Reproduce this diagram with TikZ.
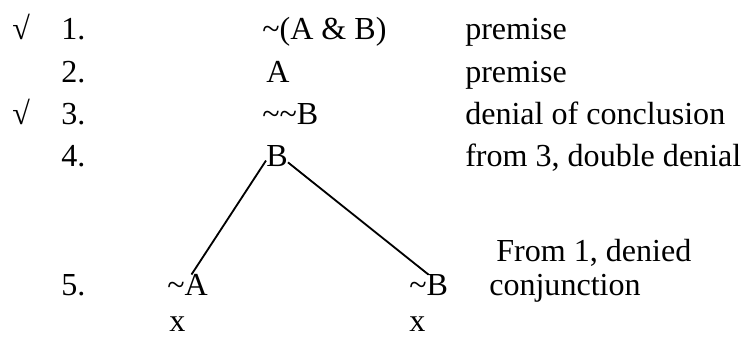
\documentclass[tikz,border=0pt]{standalone}
\usepackage{fontspec}
\setmainfont{Liberation Serif}
\usepackage{tikz}
\newcommand{\dng}{\textasciitilde}

\begin{document}
\begin{tikzpicture}[x=0.025cm,y=-0.025cm,
  row/.style={anchor=base west,inner sep=0pt,font=\fontsize{22.8}{27}\selectfont}]
  \useasboundingbox (0,0) rectangle (744,339);
  \node[row] (chk1) at (12,40) {√};
  \node[row] (num1) at (61,40) {1.};
  \node[row] (frm1) at (262,40) {\dng(A \& B)};
  \node[row] (why1) at (465,40) {premise};

  \node[row] (num2) at (61,82.5) {2.};
  \node[row] (frm2) at (266,82.5) {A};
  \node[row] (why2) at (465,82.5) {premise};

  \node[row] (chk3) at (12,125) {√};
  \node[row] (num3) at (61,125) {3.};
  \node[row] (frm3) at (262,125) {\dng\dng B};
  \node[row] (why3) at (465,125) {denial of conclusion};

  \node[row] (num4) at (61,167) {4.};
  \node[row] (frm4) at (266,167) {B};
  \node[row] (why4) at (465,167) {from 3, double denial};

  \node[row] (why5a) at (496,262) {From 1, denied};
  \node[row] (num5) at (61,296) {5.};
  \node[row] (frm5a) at (167,296) {\dng A};
  \node[row] (frm5b) at (409,296) {\dng B};
  \node[row] (why5b) at (489,296) {conjunction};

  \node[row] (cls5a) at (169,332) {x};
  \node[row] (cls5b) at (409,332) {x};

  \draw [black,line width=1.3pt] (frm4.200) -- (frm5a.70);
  \draw [black,line width=1.3pt] (frm4.332) -- (frm5b.north);
\end{tikzpicture}
\end{document}
